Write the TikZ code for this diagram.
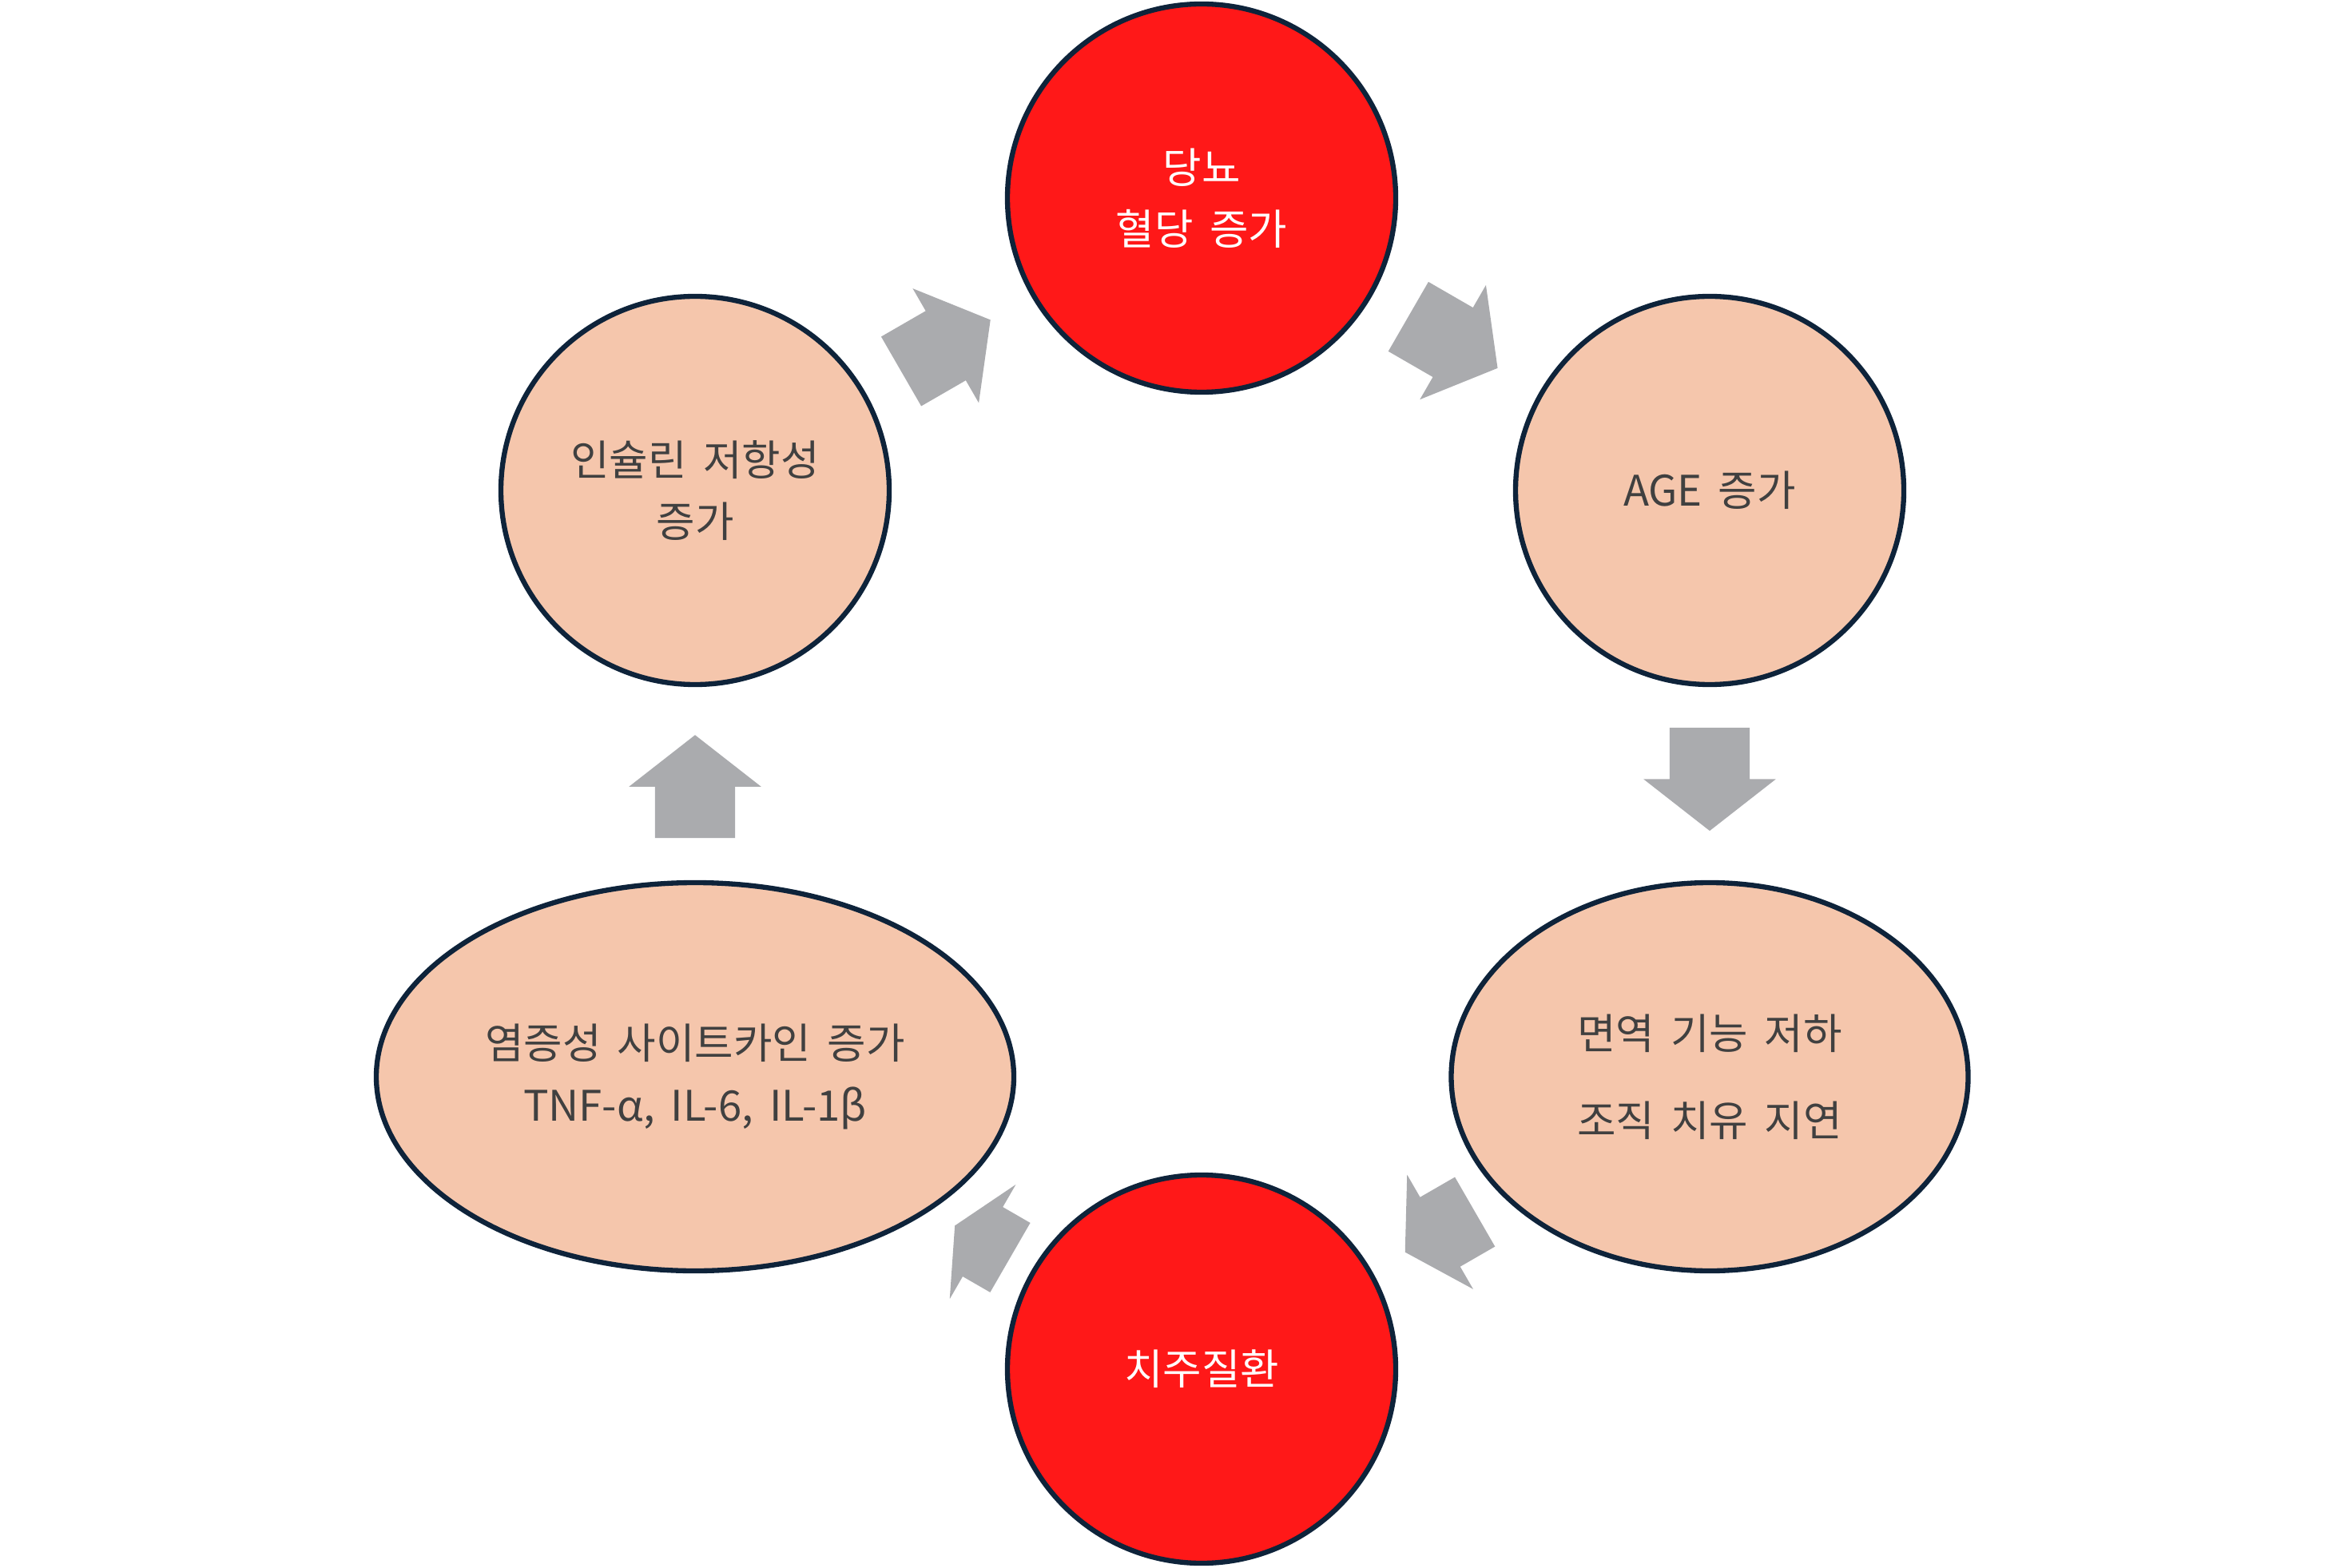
\documentclass[tikz,border=0pt]{standalone}
\usepackage{fontspec}
\setmainfont{Noto Sans CJK KR}[WordSpace=1.7]
\usepackage{tikz}
\usetikzlibrary{positioning,shapes,shapes.geometric,shapes.arrows}

\definecolor{cyclered}{RGB}{255,24,24}
\definecolor{peach}{RGB}{245,198,172}
\definecolor{rimnavy}{RGB}{14,35,58}
\definecolor{arrowgray}{RGB}{170,171,174}
\definecolor{textgray}{RGB}{64,64,64}

\tikzset{
	stage/.style={draw=rimnavy, line width=1.8pt, inner sep=0pt, align=center, font=\fontsize{15}{22}\selectfont},
	redcirc/.style={stage, circle, fill=cyclered, text=white, minimum size=4.86cm},
	peachcirc/.style={stage, circle, fill=peach, text=textgray, minimum size=4.86cm},
	peachoval/.style={stage, ellipse, fill=peach, text=textgray, minimum height=4.86cm},
	cyclearrow/.style={single arrow, draw=none, fill=arrowgray, inner xsep=0pt, inner ysep=0.495cm, anchor=tip, minimum width=1.64cm, single arrow head extend=0.325cm, single arrow head indent=0cm, minimum height=1.29cm, single arrow tip angle=104}
}

\begin{document}
\begin{tikzpicture}
	\useasboundingbox (0, 0) rectangle (29.34, 19.62);
	\node [redcirc] (DM) at (15.04, 17.14) {당뇨\\혈당 증가};
	\node [peachcirc] (AGE) at (21.40, 13.48) {AGE 증가};
	\node [peachoval, minimum width=6.47cm, font=\fontsize{15}{31}\selectfont] (IMM) at (21.40, 6.14) {면역 기능 저하\\조직 치유 지연};
	\node [redcirc] (PD) at (15.04, 2.48) {치주질환};
	\node [peachoval, minimum width=7.98cm] (INF) at (8.70, 6.14) {염증성 사이트카인 증가\\TNF-α, IL-6, IL-1β};
	\node [peachcirc] (INS) at (8.70, 13.48) {인슐린 저항성\\증가};
	% block arrows between the stages
	\node [cyclearrow, rotate=30] (A1) at (12.405, 15.62) {};
	\node [cyclearrow, rotate=-30] (A2) at (18.753, 15.007) {};
	\node [cyclearrow, rotate=-90] (A3) at (21.40, 9.21) {};
	\node [cyclearrow, rotate=210, minimum height=1.01cm, single arrow tip angle=117] (A4) at (17.58, 3.94) {};
	\node [cyclearrow, rotate=150, minimum height=0.80cm, single arrow tip angle=128] (A5) at (11.945, 4.28) {};
	\node [cyclearrow, rotate=90] (A6) at (8.70, 10.427) {};
\end{tikzpicture}
\end{document}
